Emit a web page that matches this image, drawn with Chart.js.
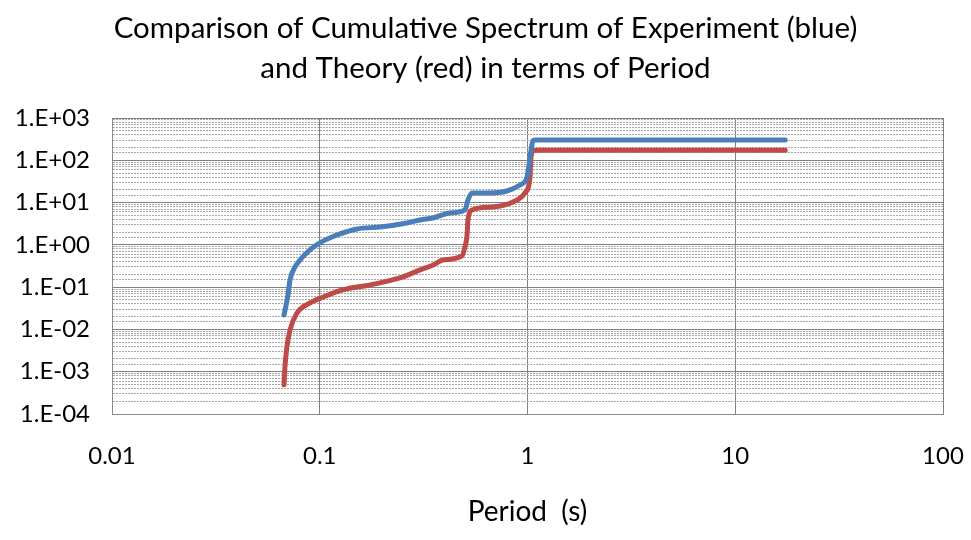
<!DOCTYPE html>
<html><head><meta charset="utf-8">
<script src="https://cdn.jsdelivr.net/npm/chart.js@4/dist/chart.umd.min.js"></script>
<style>html,body{margin:0;padding:0;background:#fff}</style>
</head><body>
<canvas id="c" width="971" height="540"></canvas>
<script>
const titleLines = ['Comparison of Cumulative Spectrum of Experiment (blue)', 'and Theory (red) in terms of Period'];
const xAxisTitle = 'Period  (s)';
const xTickLabels = {'-2':'0.01','-1':'0.1','0':'1','1':'10','2':'100'};
const yTickLabels = {'-4':'1.E-04','-3':'1.E-03','-2':'1.E-02','-1':'1.E-01','0':'1.E+00','1':'1.E+01','2':'1.E+02','3':'1.E+03'};

const blueX = [0.0673,0.0703,0.0719,0.076,0.0804,0.0897,0.1,0.121,0.151,0.195,0.263,0.304,0.351,0.424,0.50,0.517,0.541,0.638,0.796,0.92,0.995,1.04,1.063,1.1,17.4];
const blueY = [0.022,0.065,0.148,0.30,0.44,0.757,1.11,1.71,2.38,2.65,3.3,3.88,4.33,5.67,6.68,11.5,16.9,16.9,18.8,26,40,175,290,300,300];
const redX = [0.0673,0.068,0.0695,0.0719,0.0777,0.0897,0.104,0.129,0.175,0.243,0.304,0.351,0.392,0.484,0.5,0.512,0.517,0.541,0.682,0.851,0.972,1.028,1.04,1.063,1.1,17.4];
const redY = [0.00049,0.0013,0.00385,0.0097,0.0245,0.0423,0.0586,0.086,0.113,0.165,0.255,0.335,0.44,0.547,0.89,1.71,3.88,6.68,7.87,10.3,16.9,40,120,165,172,172];

const FONT = 'Lato';
function isMajor(v){const l=Math.log10(v);return Math.abs(l-Math.round(l))<1e-9;}
function pts(xs,ys){return xs.map((x,i)=>({x:x,y:ys[i]}));}

new Chart(document.getElementById('c'), {
  type: 'scatter',
  data: {datasets: [
    {label:'Experiment', data: pts(blueX,blueY), showLine:true, borderColor:'#4A7EBB', backgroundColor:'#4A7EBB', borderWidth:5, pointRadius:0, cubicInterpolationMode:'monotone', borderCapStyle:'round', borderJoinStyle:'round'},
    {label:'Theory', data: pts(redX,redY), showLine:true, borderColor:'#BE4B48', backgroundColor:'#BE4B48', borderWidth:5, pointRadius:0, cubicInterpolationMode:'monotone', borderCapStyle:'round', borderJoinStyle:'round'}
  ]},
  options: {
    responsive:false, animation:false, devicePixelRatio:1,
    layout:{padding:{left:0,right:0,top:0,bottom:0}},
    plugins:{
      legend:{display:false}, tooltip:{enabled:false},
      title:{display:true, text:titleLines, color:'#000', font:{family:FONT,size:29.5,weight:'normal',lineHeight:'40px'}, padding:{top:8,bottom:30}}
    },
    scales:{
      x:{type:'logarithmic', min:0.01, max:100,
        afterFit:s=>{s.height=126; s.paddingRight=28; s.paddingLeft=0;},
        grid:{color:c=>(c.tick&&isMajor(c.tick.value))?'#808080':'rgba(0,0,0,0)', lineWidth:1, drawTicks:false},
        border:{color:'#8c8c8c', width:1},
        ticks:{autoSkip:false, maxRotation:0, padding:28, color:'#000', font:{family:FONT,size:24},
          callback:(v)=>isMajor(v)?xTickLabels[String(Math.round(Math.log10(v)))]:''},
        title:{display:true, text:xAxisTitle, color:'#000', font:{family:FONT,size:28,lineHeight:1.2}, padding:{top:0,bottom:11}}
      },
      y:{type:'logarithmic', min:1e-4, max:1e3,
        afterFit:s=>{s.width=112;},
        grid:{color:c=>(c.tick&&isMajor(c.tick.value))?'#808080':'#a8a8a8', lineWidth:1, drawTicks:false},
        border:{color:'#8c8c8c', width:1, dash:c=>(c.type==='tick'&&c.tick&&!isMajor(c.tick.value))?[2,1]:[]},
        ticks:{autoSkip:false, padding:22, color:'#000', font:{family:FONT,size:24},
          callback:(v)=>isMajor(v)?yTickLabels[String(Math.round(Math.log10(v)))]:''}
      }
    }
  }
});
</script>
</body></html>
